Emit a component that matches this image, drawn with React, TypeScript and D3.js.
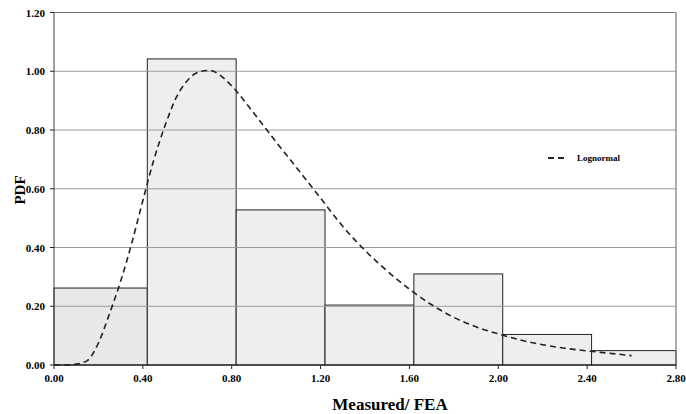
import React from "react";
import * as d3 from "d3";

const binEdges = [0, 0.42, 0.82, 1.22, 1.62, 2.02, 2.42, 2.8];
const binValues = [0.262, 1.042, 0.528, 0.204, 0.31, 0.104, 0.049];
const curveX = [0, 0.05, 0.1, 0.15, 0.2, 0.25, 0.3, 0.35, 0.4, 0.45, 0.5, 0.55, 0.6, 0.65, 0.7, 0.75, 0.8, 0.9, 1.0, 1.1, 1.2, 1.3, 1.4, 1.5, 1.6, 1.7, 1.8, 1.9, 2.0, 2.1, 2.2, 2.3, 2.4, 2.5, 2.6];
const curveY = [0, 0, 0.003, 0.015, 0.075, 0.175, 0.285, 0.415, 0.56, 0.7, 0.815, 0.91, 0.968, 0.997, 1.003, 0.985, 0.95, 0.857, 0.759, 0.664, 0.568, 0.472, 0.39, 0.32, 0.258, 0.205, 0.162, 0.13, 0.106, 0.085, 0.069, 0.057, 0.048, 0.04, 0.032];
const xTicks = [0, 0.4, 0.8, 1.2, 1.6, 2.0, 2.4, 2.8];
const yTicks = [0, 0.2, 0.4, 0.6, 0.8, 1.0, 1.2];

const W = 686, H = 414;
const L = 54, R = 676, T = 12.5, B = 365;
const font = "'Liberation Serif', 'Times New Roman', serif";

export default function App() {
  const x = d3.scaleLinear().domain([0, 2.8]).range([L, R]);
  const y = d3.scaleLinear().domain([0, 1.2]).range([B, T]);
  const line = d3
    .line<number>()
    .x((_, i) => x(curveX[i]))
    .y((d) => y(d))
    .curve(d3.curveMonotoneX);
  return (
    <svg width={W} height={H} style={{ position: "absolute", left: 0, top: 0 }}>
      <rect x={0} y={0} width={W} height={H} fill="#fff" />
      {binValues.map((v, i) => (
        <rect
          key={i}
          x={x(binEdges[i])}
          y={y(v)}
          width={x(binEdges[i + 1]) - x(binEdges[i])}
          height={B - y(v)}
          fill={i === 0 ? "#e8e8e8" : "#eeeeee"}
          stroke="#222"
          strokeWidth={1}
        />
      ))}
      {yTicks.slice(1, -1).map((t) => (
        <line key={t} x1={L} x2={R} y1={y(t)} y2={y(t)} stroke="#9a9a9a" strokeWidth={1} />
      ))}
      <line x1={L} x2={R} y1={T} y2={T} stroke="#777" strokeWidth={1.2} />
      <line x1={R} x2={R} y1={T} y2={B} stroke="#777" strokeWidth={1.2} />
      <line x1={L} x2={L} y1={T} y2={B} stroke="#444" strokeWidth={1} />
      <line x1={L} x2={R} y1={B} y2={B} stroke="#111" strokeWidth={1.2} />
      <path d={line(curveY) || ""} fill="none" stroke="#222" strokeWidth={1.6} strokeDasharray="6,4" />
      {yTicks.map((t) => (
        <g key={t}>
          <line x1={L - 4} x2={L} y1={y(t)} y2={y(t)} stroke="#222" />
          <text x={L - 9} y={y(t) + 4} textAnchor="end" fontFamily={font} fontWeight="bold" fontSize={11}>
            {t.toFixed(2)}
          </text>
        </g>
      ))}
      {xTicks.map((t) => (
        <g key={t}>
          <line x1={x(t)} x2={x(t)} y1={B} y2={B + 4} stroke="#222" />
          <text x={x(t)} y={B + 17} textAnchor="middle" fontFamily={font} fontWeight="bold" fontSize={11}>
            {t.toFixed(2)}
          </text>
        </g>
      ))}
      <text
        transform={`translate(25,190) rotate(-90)`}
        textAnchor="middle"
        fontFamily={font}
        fontWeight="bold"
        fontSize={15}
      >
        PDF
      </text>
      <text x={390} y={410} textAnchor="middle" fontFamily={font} fontWeight="bold" fontSize={17}>
        Measured/ FEA
      </text>
      <line x1={548} x2={564} y1={158} y2={158} stroke="#222" strokeWidth={2} strokeDasharray="6,4" />
      <text x={577} y={161} fontFamily={font} fontWeight="bold" fontSize={9}>
        Lognormal
      </text>
    </svg>
  );
}
